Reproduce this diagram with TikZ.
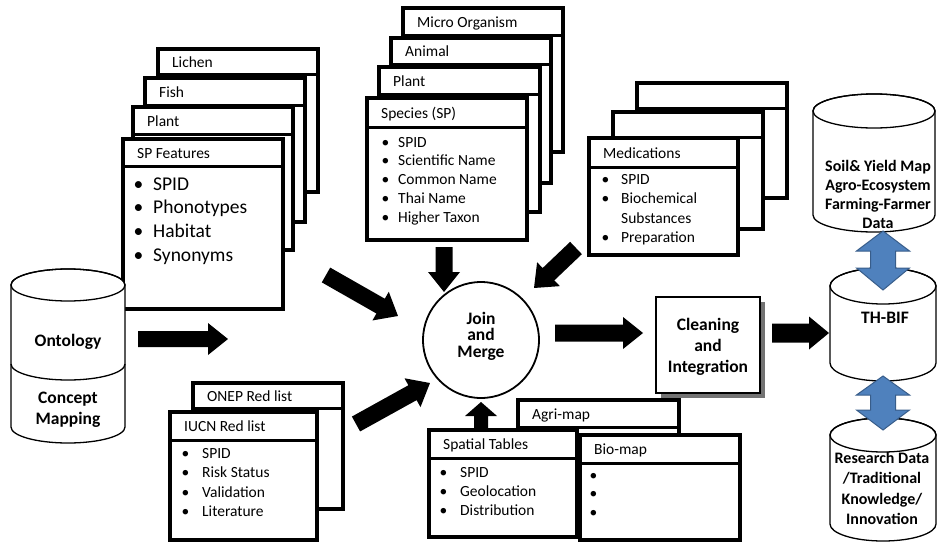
\documentclass[tikz,border=0pt]{standalone}
\usepackage{fontspec}
\setmainfont{Carlito}
\usetikzlibrary{calc,shadows}
\definecolor{arrowblue}{HTML}{4F81BD}
\definecolor{arrowblueborder}{HTML}{385D8A}
\tikzset{
  card/.style={draw, line width=3.5pt, fill=white, inner sep=0pt, outer sep=0pt},
  divider/.style={line width=3pt},
  titletext/.style={font=\fontsize{15.5}{18}\selectfont, inner sep=0pt, anchor=base west},
  listtext/.style={font=\fontsize{15.5}{18}\selectfont, inner sep=0pt, anchor=base west},
  bigtext/.style={font=\fontsize{19.5}{23}\selectfont, inner sep=0pt, anchor=base west},
  boldtext/.style={font=\bfseries\fontsize{16}{19}\selectfont, inner sep=0pt, anchor=base},
  boldbig/.style={font=\bfseries\fontsize{17.5}{20}\selectfont, inner sep=0pt, anchor=base},
  cylstyle/.style={draw, line width=1.3pt, fill=white},
  bluearrow/.style={fill=arrowblue, draw=arrowblueborder, line width=1pt},
}
% card: name, x, y, w, h, title height, title
\newcommand\mycard[7]{%
  \node[card, minimum width=#4pt, minimum height=#5pt] (#1) at ({#2+#4/2},{#3+#5/2}) {};
  \draw[divider] (#2,{#3+#6}) -- ({#2+#4},{#3+#6});
  \node[titletext] (#1-t) at ({#2+14},{#3+#6/2+5.5}) {#7};
}
% list: name, bullet x, text x, first baseline, dy, style, items flag/text
\newcommand\mylist[7]{%
  \foreach \bflag/\itx [count=\k] in {#7} {
    \ifnum\bflag=1 \node[#6] (#1-b\k) at (#2,{#4+(\k-1)*#5}) {\textbullet};\fi
    \node[#6] (#1-\k) at (#3,{#4+(\k-1)*#5}) {\itx};
  }
}
% centred lines: name, x, first baseline, dy, style, items
\newcommand\mylines[6]{%
  \foreach \itx [count=\k] in {#6} {\node[#5] (#1-\k) at (#2,{#3+(\k-1)*#4}) {\itx};}
}
% cylinder: name, cx, rx, ytop, ybot, ry
\newcommand\mycyl[6]{%
  \draw[cylstyle] ({#2-#3},#4) -- ({#2-#3},#5)
    arc[start angle=180,end angle=360,x radius=#3pt,y radius=#6pt]
    -- ({#2+#3},#4)
    arc[start angle=0,end angle=180,x radius=#3pt,y radius=#6pt] -- cycle;
  \draw[cylstyle, fill=none] (#2,#4) ellipse [x radius=#3pt, y radius=#6pt];
  \coordinate (#1) at (#2,{(#4+#5)/2});
}
% block arrow: start, end, shaft half width, head half width, head length
\newcommand\blockarrow[5]{%
  \fill let \p1=(#1), \p2=(#2), \n1={atan2(\y2-\y1,\x2-\x1)}, \n2={veclen(\x2-\x1,\y2-\y1)} in
    [shift={(\p1)}, rotate=\n1]
    (0,-#3) -- ({\n2-#5},-#3) -- ({\n2-#5},-#4) -- (\n2,0) -- ({\n2-#5},#4)
    -- ({\n2-#5},#3) -- (0,#3) -- cycle;
}
% double arrow: cx, top tip, head base 1, head base 2, bottom tip
\newcommand\dblarrow[5]{%
  \draw[bluearrow] (#1,#2) -- ({#1+26.5},#3) -- ({#1+12.5},#3) -- ({#1+12.5},#4)
    -- ({#1+26.5},#4) -- (#1,#5) -- ({#1-26.5},#4) -- ({#1-12.5},#4)
    -- ({#1-12.5},#3) -- ({#1-26.5},#3) -- cycle;
}
\begin{document}
\begin{tikzpicture}[x=1pt,y=-1pt]
\useasboundingbox (0,0) rectangle (937,543);

% left stack
\mycard{lichen}{158}{49}{160}{143}{26}{Lichen}
\mycard{fish}{145}{78}{160}{144}{27}{Fish}
\mycard{plantL}{133}{107}{160}{143}{27}{Plant}
\mycard{spf}{123}{139}{160}{170}{27}{SP Features}
\mylist{spfl}{133.5}{153}{190}{23.7}{bigtext}{1/SPID,1/Phonotypes,1/Habitat,1/Synonyms}

% species stack
\mycard{micro}{403}{8}{160}{144}{28}{Micro Organism}
\mycard{animal}{391}{38}{160}{145}{27}{Animal}
\mycard{plantS}{379}{67}{161}{145}{27}{Plant}
\mycard{species}{367}{98}{160}{142}{29}{Species (SP)}
\mylist{spl}{381.5}{398}{147}{18.75}{listtext}{1/SPID,1/Scientific Name,1/Common Name,1/Thai Name,1/Higher Taxon}

% medications stack
\mycard{med1}{637}{83}{150}{115}{25}{}
\mycard{med2}{613}{112}{150}{117}{25}{}
\mycard{med}{589}{138}{149}{117}{29}{Medications}
\mylist{medl}{601.5}{621}{184}{19.5}{listtext}{1/SPID,1/Biochemical,0/Substances,1/Preparation}

% ontology cylinder
\mycyl{onto}{68}{57}{285}{427}{16}
\draw[cylstyle, fill=none] (11,364) arc[start angle=180,end angle=360,x radius=57pt,y radius=16pt];
\mylines{ontot}{68}{346}{21}{boldbig}{Ontology}
\mylines{concept}{68}{403}{21}{boldbig}{Concept,Mapping}

% red lists
\mycard{onep}{193}{383}{150}{126}{25}{ONEP Red list}
\mycard{iucn}{170}{412}{147}{128}{28}{IUCN Red list}
\mylist{iucnl}{181.5}{202}{458}{19.5}{listtext}{1/SPID,1/Risk Status,1/Validation,1/Literature}

% spatial
\mycard{agri}{518}{400}{161}{100}{27}{Agri-map}
\mycard{spatial}{429}{430}{148}{107}{28}{Spatial Tables}
\mycard{bio}{580}{435}{160}{105}{28}{Bio-map}
\mylist{spatl}{439.5}{460}{477}{19}{listtext}{1/SPID,1/Geolocation,1/Distribution}
\mylist{biol}{589.5}{605}{480}{18.5}{listtext}{1/{},1/{},1/{}}

% join and merge
\node[draw, circle, line width=1.8pt, minimum size=116pt, inner sep=0pt, fill=white] (jm) at (481,340) {};
\mylines{jmt}{481}{324}{16.5}{boldbig}{Join,and,Merge}

% cleaning
\node[draw, line width=2.5pt, fill=white, minimum width=104pt, minimum height=96pt, inner sep=0pt,
      drop shadow={shadow xshift=5pt, shadow yshift=-5pt, fill=black, opacity=0.55}] (clean) at (708,345) {};
\mylines{cleant}{708}{330}{21}{boldbig}{Cleaning,and,Integration}

% right cylinders
\mycyl{soil}{874}{61}{111}{215}{17}
\mylines{soilt}{878}{171}{19}{boldtext}{Soil\& Yield Map,Agro-Ecosystem,Farming-Farmer,Data}
\mycyl{thbif}{883}{53}{286}{363}{18}
\mylines{thbift}{885}{323}{19}{boldbig}{TH-BIF}
\mycyl{research}{883}{53}{435}{524}{17}
\mylines{researcht}{882}{463}{20.5}{boldtext}{Research Data,/Traditional,Knowledge/,Innovation}

% blue double arrows
\dblarrow{883}{231}{251}{268}{290}
\dblarrow{883}{376}{395}{410}{430}

% black block arrows
\coordinate (a1s) at (138,339); \coordinate (a1e) at (228,339);
\coordinate (a2s) at (326,275); \coordinate (a2e) at (398,316);
\coordinate (a3s) at (444,247); \coordinate (a3e) at (444,292);
\coordinate (a4s) at (576,248); \coordinate (a4e) at (534,288);
\coordinate (a5s) at (356,424); \coordinate (a5e) at (430,383);
\coordinate (a6s) at (481,428); \coordinate (a6e) at (481,402);
\coordinate (a7s) at (555,333); \coordinate (a7e) at (643,333);
\coordinate (a8s) at (772,333); \coordinate (a8e) at (829,333);
\blockarrow{a1s}{a1e}{8}{16}{20}
\blockarrow{a2s}{a2e}{8.5}{16.5}{20}
\blockarrow{a3s}{a3e}{8.5}{16}{20}
\blockarrow{a4s}{a4e}{8.5}{16.5}{20}
\blockarrow{a5s}{a5e}{8.5}{16.5}{20}
\blockarrow{a6s}{a6e}{7}{16}{14}
\blockarrow{a7s}{a7e}{8.5}{16}{20}
\blockarrow{a8s}{a8e}{9.5}{16.5}{20}
\end{tikzpicture}
\end{document}
